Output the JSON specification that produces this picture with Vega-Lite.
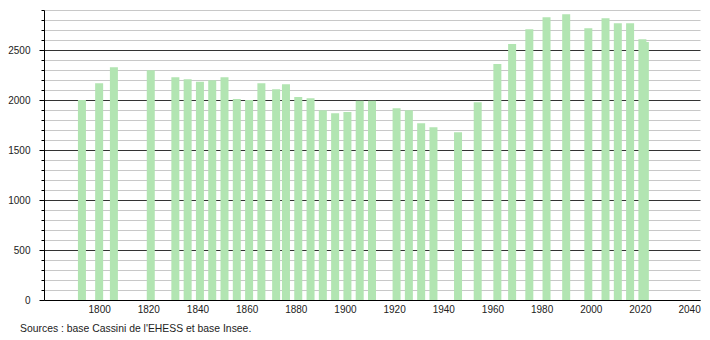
{
  "$schema": "https://vega.github.io/schema/vega-lite/v6.json",
  "width": 656,
  "height": 290,
  "autosize": {"type": "none"},
  "padding": {"left": 44, "top": 10, "right": 10, "bottom": 40},
  "background": "white",
  "config": {
    "view": {"stroke": null},
    "font": "Liberation Sans"
  },
  "title": {
    "text": "Sources : base Cassini de l'EHESS et base Insee.",
    "orient": "bottom",
    "anchor": "start",
    "frame": "group",
    "offset": 10,
    "dx": -24,
    "fontSize": 10.4,
    "fontWeight": "normal",
    "color": "#222"
  },
  "data": {
    "values": [
      {"annee": 1793, "population": 2000},
      {"annee": 1800, "population": 2167},
      {"annee": 1806, "population": 2327},
      {"annee": 1821, "population": 2297},
      {"annee": 1831, "population": 2227},
      {"annee": 1836, "population": 2207},
      {"annee": 1841, "population": 2183},
      {"annee": 1846, "population": 2197},
      {"annee": 1851, "population": 2227},
      {"annee": 1856, "population": 2010},
      {"annee": 1861, "population": 2000},
      {"annee": 1866, "population": 2167},
      {"annee": 1872, "population": 2107},
      {"annee": 1876, "population": 2157},
      {"annee": 1881, "population": 2030},
      {"annee": 1886, "population": 2017},
      {"annee": 1891, "population": 1897},
      {"annee": 1896, "population": 1867},
      {"annee": 1901, "population": 1880},
      {"annee": 1906, "population": 1993},
      {"annee": 1911, "population": 1993},
      {"annee": 1921, "population": 1917},
      {"annee": 1926, "population": 1897},
      {"annee": 1931, "population": 1767},
      {"annee": 1936, "population": 1727},
      {"annee": 1946, "population": 1677},
      {"annee": 1954, "population": 1977},
      {"annee": 1962, "population": 2360},
      {"annee": 1968, "population": 2560},
      {"annee": 1975, "population": 2707},
      {"annee": 1982, "population": 2827},
      {"annee": 1990, "population": 2857},
      {"annee": 1999, "population": 2717},
      {"annee": 2006, "population": 2817},
      {"annee": 2011, "population": 2767},
      {"annee": 2016, "population": 2767},
      {"annee": 2021, "population": 2607},
      {"annee": 2022, "population": 2580}
    ]
  },
  "mark": {"type": "bar", "size": 8, "color": "#b2e5b2", "opacity": 1},
  "encoding": {
    "x": {
      "field": "annee",
      "type": "quantitative",
      "scale": {"domain": [1779.6, 2042.4], "nice": false, "zero": false},
      "axis": {
        "title": null,
        "values": [1800, 1820, 1840, 1860, 1880, 1900, 1920, 1940, 1960, 1980, 2000, 2020, 2040],
        "format": "d",
        "grid": false,
        "ticks": false,
        "labelPadding": 4,
        "labelFontSize": 10,
        "labelColor": "#222",
        "domainColor": "#000",
        "domainWidth": 1,
        "labelFlush": false
      }
    },
    "y": {
      "field": "population",
      "type": "quantitative",
      "scale": {"domain": [0, 2900], "nice": false},
      "axis": {
        "title": null,
        "values": [0, 100, 200, 300, 400, 500, 600, 700, 800, 900, 1000, 1100, 1200, 1300, 1400, 1500, 1600, 1700, 1800, 1900, 2000, 2100, 2200, 2300, 2400, 2500, 2600, 2700, 2800, 2900],
        "labelExpr": "datum.value % 500 === 0 ? datum.label : ''",
        "format": "d",
        "grid": true,
        "gridColor": {"condition": {"test": "datum.value % 500 === 0", "value": "#333333"}, "value": "#c8c8c8"},
        "gridWidth": 1,
        "ticks": true,
        "tickSize": {"condition": {"test": "datum.value % 500 === 0", "value": 5}, "value": 3},
        "tickColor": "#000",
        "domainColor": "#000",
        "labelFontSize": 10,
        "labelColor": "#222",
        "labelPadding": 9
      }
    }
  }
}
